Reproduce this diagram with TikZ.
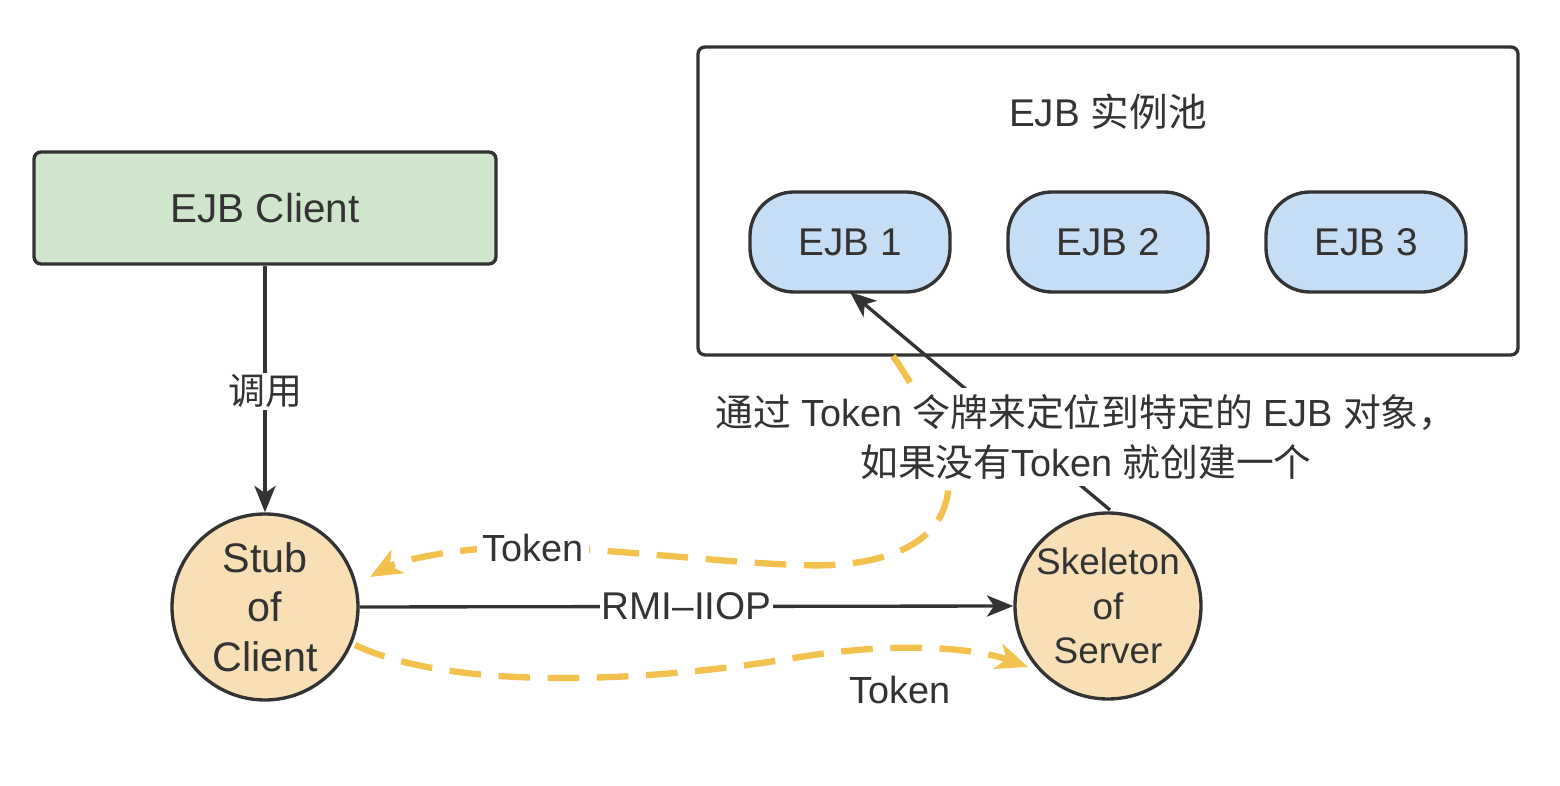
\documentclass[tikz,border=0pt]{standalone}
\usepackage{fontspec}
\setmainfont{Liberation Sans}
\newfontfamily\cjk{Noto Sans CJK SC}
\usetikzlibrary{arrows.meta}
\definecolor{ink}{HTML}{333333}
\definecolor{greenfill}{HTML}{D0E6CC}
\definecolor{bluefill}{HTML}{C5DEF6}
\definecolor{peach}{HTML}{F9DFB5}
\definecolor{tokenyellow}{HTML}{F2C14E}
\tikzset{
  base/.style={draw=ink, line width=1.9pt, text=ink, font=\fontsize{22}{26}\selectfont, inner sep=0pt},
  sqbox/.style={base, rounded corners=4pt},
  ejb/.style={base, fill=bluefill, rounded corners=25pt, minimum width=200*0.02cm, minimum height=100*0.02cm},
  endpoint/.style={base, fill=peach, circle, minimum size=186*0.02cm, align=center},
  link/.style={draw=ink, line width=1.9pt, -{Stealth[length=15pt, width=12pt, inset=4pt]}},
  token/.style={draw=tokenyellow, line width=3.6pt, dash pattern=on 18pt off 10pt,
     -{Stealth[length=18pt, width=15pt, inset=5pt]}},
  lbl/.style={fill=white, text=ink, font=\fontsize{22}{26}\selectfont, inner sep=1pt},
}
\begin{document}
\begin{tikzpicture}[x=0.02cm, y=-0.02cm]
\useasboundingbox (0,0) rectangle (1560,786);
% pool
\node[sqbox, fill=white, minimum width=820*0.02cm, minimum height=308*0.02cm] (pool) at (1108,201) {};
\node[text=ink, font=\fontsize{22}{26}\selectfont] (pooltitle) at (1108,112) {EJB {\cjk 实例池}};
\node[ejb] (ejb1) at (850,242) {EJB 1};
\node[ejb] (ejb2) at (1108,242) {EJB 2};
\node[ejb] (ejb3) at (1366,242) {EJB 3};
% client
\node[sqbox, fill=greenfill, minimum width=462*0.02cm, minimum height=112*0.02cm, font=\fontsize{23}{27}\selectfont] (client) at (265,208) {EJB Client};
% endpoints
\node[endpoint, font=\fontsize{23.5}{28.3}\selectfont] (stub) at (265,607) {Stub\\of\\Client};
\node[endpoint, font=\fontsize{21}{25.5}\selectfont] (skel) at (1108,606) {Skeleton\\of\\Server};
% connectors
\coordinate (poolexit) at (893,356);
\coordinate (ejbone) at (850,292);
\coordinate (skeltop) at (1110,510);
\draw[link] (skeltop) -- (ejbone);
\draw[token] (poolexit) .. controls (930,410) and (958,470) .. (945,505)
   .. controls (930,555) and (860,568) .. (800,565)
   .. controls (700,562) and (570,542) .. (480,549)
   .. controls (430,553) and (395,563) .. (370,577);
\draw[token] (355,645) .. controls (450,690) and (640,684) .. (800,657)
   .. controls (900,641) and (975,648) .. (1028,667);
\draw[link] (client) -- node[lbl, pos=0.51, font=\fontsize{21}{25}\selectfont] (calllbl) {\cjk 调用} (stub);
\draw[link] (stub.east) -- node[lbl, pos=0.5] (rmilbl) {RMI--IIOP} (skel.west);
\node[lbl, inner sep=3pt, font=\fontsize{21.5}{25}\selectfont] (tokup) at (533,548) {Token};
\node[text=ink, font=\fontsize{21.5}{25}\selectfont] (tokdown) at (900,690) {Token};
\node[lbl, align=center, inner sep=4pt, font=\fontsize{21.5}{28}\selectfont] (note) at (1086,437)
  {{\cjk 通过} Token {\cjk 令牌来定位到特定的} EJB {\cjk 对象，}\\{\cjk 如果没有}Token {\cjk 就创建一个}};
\end{tikzpicture}
\end{document}
